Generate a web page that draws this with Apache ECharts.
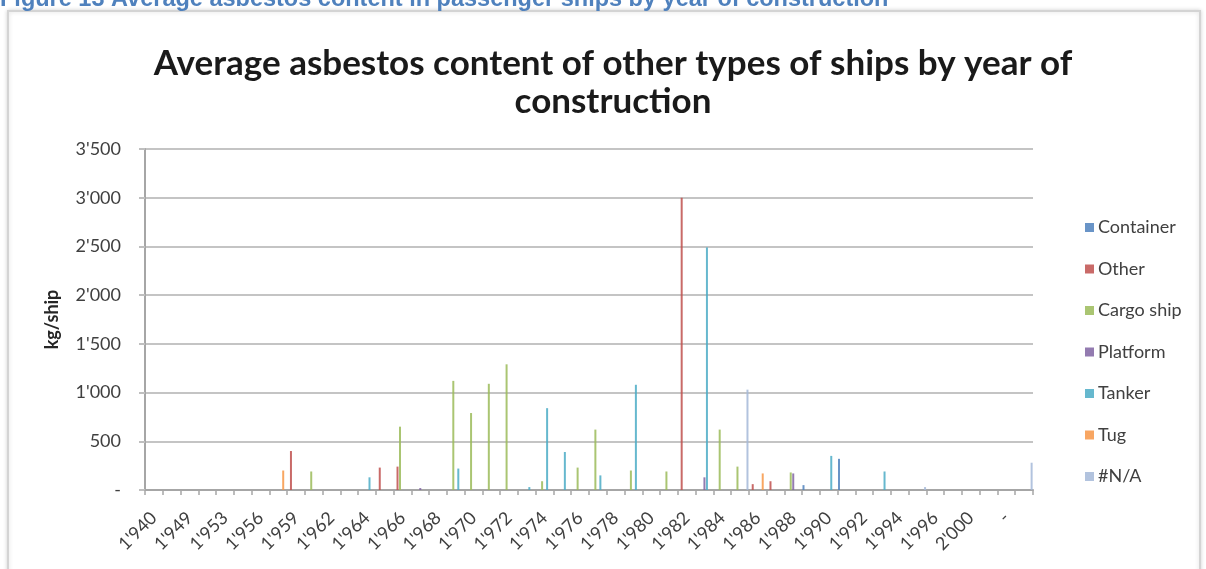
<!DOCTYPE html>
<html>
<head>
<meta charset="utf-8">
<script src="https://cdn.jsdelivr.net/npm/echarts@6/dist/echarts.min.js"></script>
<style>
  html, body { margin: 0; padding: 0; background: #ffffff; }
  #chart { width: 1206px; height: 569px; }
</style>
</head>
<body>
<div id="chart"></div>
<script>
// Years of construction, as they appear on the category axis
const yearLabels = [
  "1'940", "1'946", "1'949", "1'951", "1'953", "1'955", "1'956", "1'958", "1'959", "1'961",
  "1'962", "1'963", "1'964", "1'965", "1'966", "1'967", "1'968", "1'969", "1'970", "1'971",
  "1'972", "1'973", "1'974", "1'975", "1'976", "1'977", "1'978", "1'979", "1'980", "1'981",
  "1'982", "1'983", "1'984", "1'985", "1'986", "1'987", "1'988", "1'989", "1'990", "1'991",
  "1'992", "1'993", "1'994", "1'995", "1'996", "1'998", "2'000", "2'003", "-", ""
];

// Average asbestos content (kg/ship) by ship type, keyed by year of construction
const container = [["1'989", 50], ["1'991", 320]];
const other = [["1'959", 400], ["1'965", 230], ["1'966", 240], ["1'982", 3000], ["1'986", 60], ["1'987", 90]];
const cargoShip = [
  ["1'961", 190], ["1'966", 650], ["1'969", 1120], ["1'970", 790], ["1'971", 1090], ["1'972", 1290],
  ["1'974", 90], ["1'976", 230], ["1'977", 620], ["1'979", 200], ["1'981", 190], ["1'984", 620],
  ["1'985", 240], ["1'988", 180]
];
const platform = [["1'967", 20], ["1'983", 130], ["1'988", 170]];
const tanker = [
  ["1'964", 130], ["1'969", 220], ["1'973", 30], ["1'974", 840], ["1'975", 390], ["1'977", 150],
  ["1'979", 1080], ["1'983", 2490], ["1'990", 350], ["1'993", 190]
];
const tug = [["1'958", 200], ["1'986", 170]];
const notAvailable = [["1'985", 1030], ["1'995", 30], ["", 280]];

const seriesNames = ['Container', 'Other', 'Cargo ship', 'Platform', 'Tanker', 'Tug', '#N/A'];
const seriesPairs = [container, other, cargoShip, platform, tanker, tug, notAvailable];
const seriesColors = ['#4F81BD', '#C0504D', '#9BBB59', '#8064A2', '#4BACC6', '#F79646', '#A5B8D8'];

// Spread the sparse year/value pairs over the full list of years
function toColumn(pairs) {
  const lookup = new Map(pairs);
  return yearLabels.map(y => (lookup.has(y) ? lookup.get(y) : 0));
}

function fmtThousands(v) {
  if (v === 0) return '-';
  return String(v).replace(/\B(?=(\d{3})+(?!\d))/g, "'");
}

const chart = echarts.init(document.getElementById('chart'), null, { renderer: 'canvas' });

chart.setOption({
  animation: false,
  backgroundColor: '#ffffff',
  textStyle: { fontFamily: 'Lato, "Open Sans", sans-serif' },
  graphic: [
    {
      type: 'rect',
      shape: { x: 8, y: 11, width: 1192, height: 580 },
      style: { fill: '#ffffff', stroke: '#d4d4d4', lineWidth: 2, shadowBlur: 4, shadowColor: 'rgba(0,0,0,0.15)' },
      z: -10
    },
    {
      type: 'text',
      left: 0,
      top: -12,
      style: {
        text: 'Figure 13 Average asbestos content in passenger ships by year of construction',
        font: 'bold 23.5px "Liberation Sans", Arial, sans-serif',
        fill: '#4F81BD'
      }
    }
  ],
  title: {
    text: 'Average asbestos content of other types of ships by year of\nconstruction',
    left: 608,
    top: 40,
    textAlign: 'center',
    textStyle: {
      fontFamily: 'Lato, sans-serif',
      fontSize: 35,
      fontWeight: 'bold',
      color: '#1a1a1a',
      lineHeight: 38
    }
  },
  legend: {
    orient: 'vertical',
    left: 1080,
    top: 213,
    itemWidth: 9,
    itemHeight: 9,
    itemGap: 22.5,
    itemStyle: { borderWidth: 0 },
    icon: 'rect',
    textStyle: { fontSize: 18, color: '#404040', lineHeight: 19, fontFamily: 'Lato, sans-serif', padding: [0, 0, 0, -1] },
    data: seriesNames
  },
  grid: { left: 145, right: 173, top: 149, bottom: 79, containLabel: false },
  xAxis: {
    type: 'category',
    data: yearLabels,
    boundaryGap: true,
    axisLine: { lineStyle: { color: '#a6a6a6', width: 2 } },
    axisTick: { show: true, interval: 0, length: 5, lineStyle: { color: '#a6a6a6', width: 1.5 } },
    axisLabel: {
      interval: 1,
      rotate: 45,
      margin: 25,
      fontSize: 18,
      color: '#404040',
      fontFamily: 'Lato, sans-serif'
    },
    splitLine: { show: false }
  },
  yAxis: {
    type: 'value',
    min: 0,
    max: 3500,
    interval: 500,
    name: 'kg/ship',
    nameLocation: 'middle',
    nameGap: 84,
    nameRotate: 90,
    nameTextStyle: { fontSize: 18, fontWeight: 'bold', color: '#262626', fontFamily: 'Lato, sans-serif' },
    axisLine: { show: true, lineStyle: { color: '#a6a6a6', width: 2 } },
    axisTick: { show: true, length: 6, lineStyle: { color: '#bfbfbf', width: 2 } },
    axisLabel: {
      margin: 24,
      fontSize: 18,
      color: '#404040',
      fontFamily: 'Lato, sans-serif',
      formatter: fmtThousands
    },
    splitLine: { lineStyle: { color: '#c4c4c4', width: 2 } }
  },
  series: seriesNames.map((name, i) => ({
    name: name,
    type: 'bar',
    barWidth: 2,
    barGap: '25%',
    data: toColumn(seriesPairs[i]),
    itemStyle: { color: seriesColors[i], opacity: 0.85 },
    emphasis: { disabled: true }
  }))
});
</script>
</body>
</html>
